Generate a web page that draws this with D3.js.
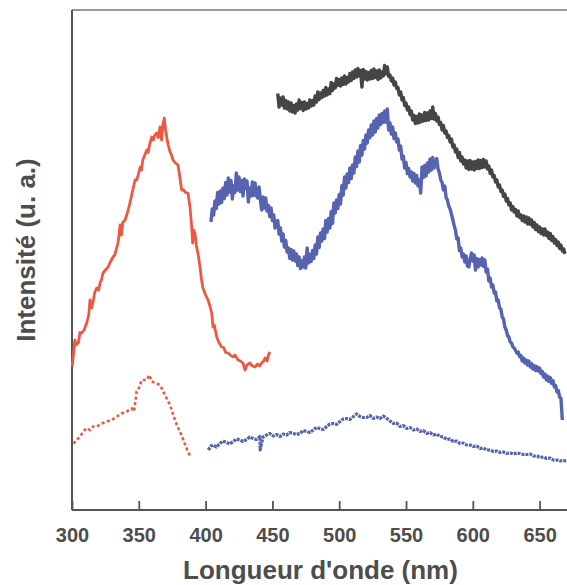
<!DOCTYPE html>
<html><head><meta charset="utf-8">
<script src="https://cdn.jsdelivr.net/npm/d3@7"></script>
<style>html,body{margin:0;padding:0;background:#fff;}svg{display:block;}</style>
</head><body>
<svg id="chart" width="567" height="585"></svg>
<script>
// ---- Data (wavelength nm, intensity a.u.) ----
const xTicks = [300, 350, 400, 450, 500, 550, 600, 650];
const xTitle = "Longueur d'onde (nm)";
const yTitle = "Intensité (u. a.)";

// red solid: excitation spectrum
const redSolidNm = [300.2,301,302.2,303,304.7,306,307.3,309,311,312.5,313.5,314.7,316,317,318.5,320,321,322,323.2,325,327,328.5,330.7,332,334.4,335.2,336,337,338,339.7,341,342,343,344.2,345.5,347.2,348.5,350,351,352,353,354.5,356,357,358,359.7,361,362,363.4,364.5,365.9,366.5,367.1,368,369.1,370,370.9,372,373.4,374.5,375.6,377,379.3,380.5,382.1,383.5,385,386.8,388.3,389.5,390.3,391,392,393,394.5,395.8,397,398,400,401.8,403,404.6,405.5,406.5,408.3,410,412,413.5,415,416.8,418.5,420.5,422,424.3,426,428,429.5,431,433.2,435,437,439,440.5,442,443.5,444.5,446,447,448.2];
const redSolidI = [28.7,31,34,33,33.4,35.5,35.4,36,37.4,39,42,40.4,42,43.5,44.4,44,45.4,46,47.4,48,48.6,49.5,50.6,51,53.4,55,57,55,57.5,58,59,60,61,62.4,64,66,66,67.5,68.6,68,70,71,72,71.5,73,74.6,74,75,75.4,74.5,76.6,75,74,77,78.4,76,74.6,73,71.6,71,70,69.5,69,67,64,64,63.5,63.4,60.6,57,53.4,56,55.4,53,51,48.6,46,44.4,43,42,41,39.4,36.6,37,34.6,33.5,32.6,32.5,31.5,31.4,31,30.6,31,30,29.8,29.4,28,29,29.4,28.8,28.6,29.2,28.8,29.4,29.8,30.4,29.8,31,31.6];

// red dotted: weak excitation
const redDotNm = [301,303.5,306,308.5,311,313.5,315.9,318.5,322.2,326,329.7,333.5,337.2,340.9,344.7,346.4,348.4,349.6,352.2,355.9,357.9,359.7,363.4,365.9,368.3,370.9,373.4,375.8,378.4,380.8,383.8,386.3,388.8];
const redDotI = [13.3,14,14.7,15.7,16.4,16,16.7,16.7,17.3,17.7,18,18.7,19.3,19.7,20.3,19.7,23.7,24,26,26,27,25.7,25.3,25,23.7,22.3,21,19,17,15.7,13.7,12,10.5];

// blue upper: emission spectrum, sampled every 1 nm from 404 nm
const blueUpStart = 404;
const blueUpI = [
57.6,60.2,59.0,61.8,60.3,63.5,61.2,63.8,61.5,64.4,
62.3,65.5,63.0,66.4,63.6,65.9,62.2,64.8,63.5,67.4,
64.0,66.6,63.7,65.9,62.8,66.2,64.3,65.8,61.6,64.4,
62.8,65.6,62.9,65.4,63.0,62.4,64.6,62.0,60.0,62.6,
60.4,62.4,59.8,60.9,58.7,60.4,57.9,59.0,56.4,57.8,
57.9,55.2,56.4,53.8,55.2,52.6,53.9,51.6,52.4,50.3,
52.1,50.0,51.8,49.8,51.2,48.9,50.6,48.3,49.8,48.6,
50.6,48.4,52.4,49.4,51.1,49.7,51.9,50.3,53.0,51.2,
54.6,52.5,55.4,53.8,56.2,54.3,57.9,55.6,58.3,56.4,
59.7,57.3,61.4,59.4,62.0,60.3,63.1,61.2,64.9,63.0,
66.6,64.4,67.2,65.5,68.4,66.3,69.0,67.4,70.6,68.7,
71.8,69.6,72.9,71.0,73.9,72.2,75.0,73.4,76.0,74.5,
77.0,75.0,77.8,75.6,78.3,76.4,79.0,77.1,79.3,77.5,
79.8,77.6,80.2,76.0,77.4,75.2,76.6,74.3,75.4,73.6,
74.2,72.0,72.8,70.2,70.8,68.4,69.5,67.3,68.3,66.6,
67.6,65.8,67.3,65.4,66.9,64.8,66.0,63.4,68.6,66.5,
68.9,66.8,69.4,67.6,70.2,68.0,70.5,68.4,69.6,70.3,
68.2,67.4,66.0,65.5,64.0,64.8,62.5,62.0,60.8,60.2,
59.2,58.1,56.9,56.0,54.2,54.4,51.9,52.4,50.6,51.2,
49.6,50.8,48.8,48.6,50.2,51.4,49.8,51.0,48.0,50.3,
48.6,50.1,49.0,50.4,48.7,50.0,47.6,48.2,45.8,46.4,
44.6,45.0,43.4,43.6,41.8,42.0,40.4,40.2,38.6,38.2,
36.6,36.0,34.9,34.6,33.6,33.4,32.6,32.4,31.9,31.4,
31.6,30.7,30.9,29.8,30.4,29.4,30.0,29.0,29.8,28.6,
29.3,28.2,28.9,27.9,28.7,27.8,28.4,27.3,27.7,26.6,
27.2,26.0,26.8,25.7,26.5,25.3,25.9,24.6,24.9,23.6,
23.9,22.6,22.3,18.0];

// dark grey: emission of second sample, sampled every 1 nm from 454 nm
const greyStart = 454;
const greyI = [
83.3,80.6,82.4,81.0,82.6,80.4,81.9,80.2,81.6,79.8,
81.4,79.6,80.9,79.4,81.2,80.0,82.0,80.3,81.5,79.9,
81.6,80.2,81.3,80.4,82.0,80.8,81.9,81.0,82.8,81.6,
83.6,82.1,83.4,82.5,83.9,82.8,84.5,83.0,84.2,83.3,
85.5,83.9,85.2,84.4,86.3,84.9,86.1,84.8,86.4,85.1,
86.8,85.2,86.5,85.6,87.3,85.9,87.6,86.3,88.0,86.6,
88.3,86.8,87.9,84.6,88.1,86.2,87.7,86.0,87.5,86.2,
87.9,86.3,88.2,86.5,87.8,86.1,88.0,86.4,87.6,86.8,
88.9,87.2,88.6,86.7,87.0,85.8,86.4,85.0,85.6,84.3,
84.5,83.0,83.6,82.0,82.5,80.9,81.4,80.0,80.6,79.1,
79.8,78.0,78.9,77.3,78.7,77.4,79.2,77.6,79.0,77.8,
79.5,77.9,79.4,78.0,79.8,78.3,80.6,78.2,79.3,77.8,
78.6,77.1,77.5,76.0,76.9,75.4,75.8,74.5,74.9,73.6,
74.2,72.6,73.0,71.6,72.2,70.5,71.5,69.8,70.6,69.2,
70.0,68.4,69.8,68.1,69.9,68.2,69.6,68.0,69.7,68.3,
70.0,68.3,69.9,68.5,70.1,68.6,69.8,68.2,68.8,67.3,
68.0,66.6,66.9,65.6,66.0,64.6,65.0,63.7,64.0,62.7,
63.2,61.8,62.3,61.0,61.4,60.0,60.7,59.6,60.1,58.8,
59.8,58.5,59.0,57.9,58.8,57.6,58.6,57.2,58.4,57.1,
58.0,56.6,57.5,56.1,57.0,55.7,56.6,55.3,56.2,55.0,
56.2,54.9,55.6,54.3,55.3,53.9,54.7,53.4,54.1,52.9,
53.6,52.3,53.0,51.8,52.2,51.2];

// blue lower: weak emission
const blueLowNm = [402,404,405.8,408,410.8,413,415.8,418,420.7,423,425.7,428,430.8,433,435.7,438,440.7,440.8,443,445.7,448,450.7,453,455.7,458,460.7,463,465.6,468,470.7,473,475.7,478,480.6,483,485.6,488,490.6,493,495.6,498,500.6,503,505.6,508,510.6,513,515.6,518,520.6,523,525.5,528,530.5,533,535.6,538,540.5,543,545.5,548,550.5,553,555.5,558,560.5,563,565.5,568,570.4,573,575.4,578,580.5,583,585.4,588,590.4,593,595.4,598,600.4,603,605.4,608,610.4,613,615.4,618,620.4,623,625.4,628,630.3,633,635.3,638,640.3,643,645.3,648,650.3,653,655.3,658,660.3,663,665.3,668,670.3];
const blueLowI = [12,12.8,13,12.6,13.3,13.8,13.5,13.2,13.7,14.2,14,13.7,14.1,14.6,14.3,14.1,14.7,12,14.6,15,15.3,14.8,15.1,14.7,15.2,15,15.5,15.3,15.1,15.3,15.9,15.7,15.5,16,16.5,16.3,16.1,16.7,17.2,17.3,17.1,17.7,18.2,18.3,18.1,18.7,19.2,18.7,18.5,18.5,18.9,18.3,18.6,18.3,18.8,18.3,17.8,17.3,17.4,16.7,16.9,16.3,16.5,16,16.2,15.7,15.9,15.3,15.5,15,15.2,14.7,14.6,14.1,14.2,13.7,13.8,13.3,13.4,13,13,12.7,12.8,12.3,12.4,12,12,11.7,11.8,11.5,11.6,11.3,11.4,11.2,11.4,11.3,11.1,11.1,11.2,10.8,10.8,10.5,10.6,10.3,10.4,10,10,9.8,9.9,9.7];

const toPts = (xs, ys) => xs.map((x, i) => [x, ys[i]]);
const gridPts = (start, ys) => ys.map((v, i) => [start + i, v]);

// ---- Layout ----
const svg = d3.select("#chart");
const W = 567, H = 585;
const m = {left: 72, right: 0, top: 10, bottom: 75};
const x = d3.scaleLinear().domain([300, 670.5]).range([m.left, W - m.right]);
const y = d3.scaleLinear().domain([0, 100]).range([H - m.bottom, m.top]);

const axisColor = "#555";
const textColor = "#4d4d4d";
const font = "Liberation Sans, Arial, sans-serif";

// frame: top line and left line
svg.append("line").attr("x1", x(300)).attr("x2", W).attr("y1", m.top).attr("y2", m.top)
  .attr("stroke", "#777").attr("stroke-width", 1.6);
svg.append("line").attr("x1", m.left).attr("x2", m.left).attr("y1", m.top).attr("y2", H - m.bottom)
  .attr("stroke", axisColor).attr("stroke-width", 2);

// x axis
const xAxis = d3.axisBottom(x).tickValues(xTicks).tickSizeInner(-9).tickSizeOuter(0).tickPadding(18);
const gx = svg.append("g").attr("transform", `translate(0,${H - m.bottom})`).call(xAxis);
gx.select(".domain").attr("stroke", axisColor).attr("stroke-width", 2).attr("d", `M${m.left},0H${W}`);
gx.selectAll(".tick line").attr("stroke", axisColor).attr("stroke-width", 1.8);
gx.selectAll(".tick text").attr("fill", textColor).attr("font-family", font)
  .attr("font-weight", "bold").attr("font-size", 20);

// titles
svg.append("text").attr("x", (m.left + W) / 2 + 1).attr("y", 579).attr("text-anchor", "middle")
  .attr("font-family", font).attr("font-weight", "bold")
  .attr("font-size", 26).attr("fill", textColor).text(xTitle);
svg.append("text").attr("transform", "translate(35,250) rotate(-90)").attr("text-anchor", "middle")
  .attr("font-family", font).attr("font-weight", "bold")
  .attr("font-size", 26).attr("fill", textColor).text(yTitle);

// series
const line = d3.line().x(d => x(d[0])).y(d => y(d[1]));
const red = "#ef5741", blue = "#5563b0", grey = "#444546";

svg.append("path").datum(gridPts(greyStart, greyI)).attr("d", line)
  .attr("fill", "none").attr("stroke", grey).attr("stroke-width", 3.4).attr("stroke-linejoin", "round");
svg.append("path").datum(gridPts(blueUpStart, blueUpI)).attr("d", line)
  .attr("fill", "none").attr("stroke", blue).attr("stroke-width", 3.4).attr("stroke-linejoin", "round");
svg.append("path").datum(toPts(redSolidNm, redSolidI)).attr("d", line)
  .attr("fill", "none").attr("stroke", red).attr("stroke-width", 2.8).attr("stroke-linejoin", "round");
svg.append("path").datum(toPts(redDotNm, redDotI)).attr("d", line)
  .attr("fill", "none").attr("stroke", red).attr("stroke-width", 2.6).attr("stroke-dasharray", "3 2.5");
svg.append("path").datum(toPts(blueLowNm, blueLowI)).attr("d", line)
  .attr("fill", "none").attr("stroke", blue).attr("stroke-width", 3.2).attr("stroke-dasharray", "3 1")
  .attr("stroke-linejoin", "round");
</script>
</body></html>
